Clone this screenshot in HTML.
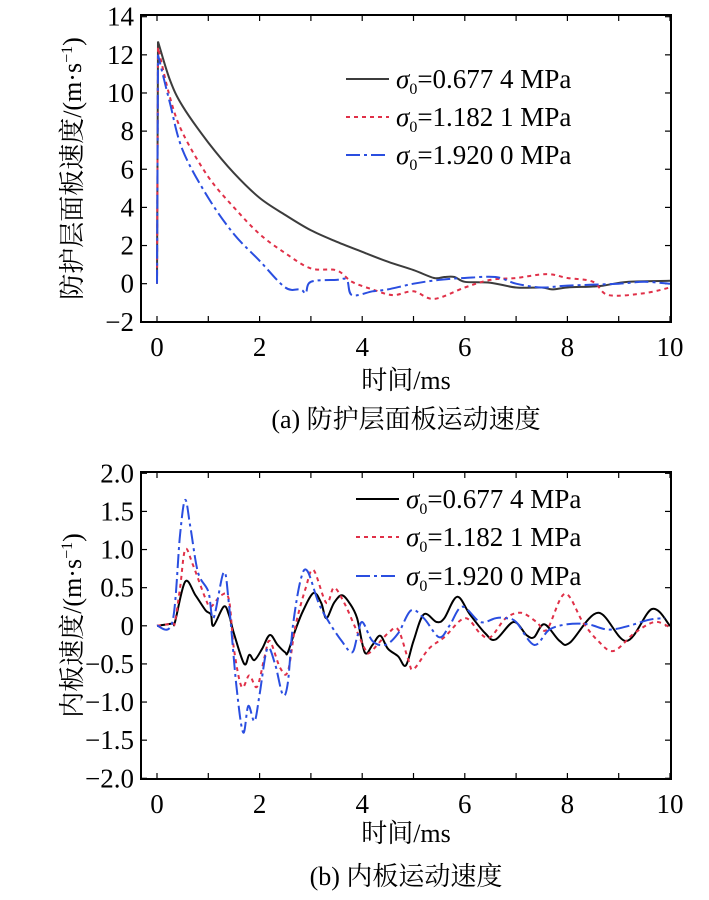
<!DOCTYPE html>
<html><head><meta charset="utf-8">
<style>
body{margin:0;background:#fff;}
svg text{font-family:"Liberation Serif","Noto Serif CJK SC","Noto Sans CJK SC",serif;fill:#000;}
</style></head>
<body>
<svg id="c" width="709" height="895" viewBox="0 0 709 895" xmlns="http://www.w3.org/2000/svg"></svg>
<script>
// ---- data: top chart (protective panel velocity) ----
const topXTicks = [0,2,4,6,8,10];
const topYTicks = [-2,0,2,4,6,8,10,12,14];
const topT1 = [0,0.02,0.25,0.5,1,1.5,2,2.5,3,3.5,4,4.5,5,5.4,5.6,5.8,6,6.5,7,7.5,7.7,8,8.5,8.7,9.2,10];
const topV1 = [0,12.7,10.7,9.3,7.4,5.8,4.5,3.6,2.8,2.2,1.67,1.15,0.71,0.3,0.35,0.35,0.1,0.05,-0.2,-0.2,-0.3,-0.2,-0.15,-0.1,0.1,0.15];
const topT2 = [0,0.02,0.25,0.5,1,1.5,2,2.5,3,3.5,3.8,4.2,4.6,5,5.4,6,6.5,7,7.6,8,8.5,8.8,9.5,10];
const topV2 = [0,12.4,9.8,7.9,5.6,4.0,2.6,1.6,0.8,0.7,0.1,-0.3,-0.6,-0.4,-0.8,-0.2,0.2,0.3,0.5,0.3,0.1,-0.6,-0.5,-0.2];
const topT3 = [0,0.02,0.25,0.5,1,1.5,2,2.5,2.8,2.9,3,3.5,3.7,3.8,4.2,4.5,5,5.5,6,6.6,7,7.5,8,9,9.5,10];
const topV3 = [0,12.0,9.5,7.0,4.5,2.6,1.2,-0.2,-0.3,-0.5,0.1,0.2,0.2,-0.6,-0.4,-0.3,0,0.2,0.3,0.35,0,-0.2,-0.1,0,0.1,0];
// ---- data: bottom chart (inner panel velocity) ----
const botXTicks = [0,2,4,6,8,10];
const botYTicks = [-2,-1.5,-1,-0.5,0,0.5,1,1.5,2];
const botYLabels = ["\u22122.0","\u22121.5","\u22121.0","\u22120.5","0","0.5","1.0","1.5","2.0"];
const botT1 = [0,0.3,0.35,0.55,0.75,0.95,1.05,1.1,1.3,1.4,1.5,1.7,1.8,1.9,2.05,2.2,2.35,2.5,2.55,2.7,2.85,3.05,3.2,3.3,3.45,3.6,3.75,3.9,4.05,4.2,4.35,4.5,4.7,4.85,5.0,5.2,5.45,5.6,5.85,6.1,6.4,6.6,6.95,7.2,7.35,7.55,7.85,8.05,8.6,9.15,9.65,10];
const botV1 = [0,0.03,0.05,0.58,0.4,0.2,0.15,0,0.25,0.15,-0.1,-0.5,-0.38,-0.45,-0.3,-0.12,-0.25,-0.35,-0.35,-0.05,0.2,0.43,0.3,0.1,0.3,0.4,0.3,0.1,-0.35,-0.25,-0.13,-0.3,-0.4,-0.52,-0.2,0.15,0.05,0.1,0.38,0.15,-0.1,-0.18,0.05,-0.12,-0.15,0.02,-0.2,-0.22,0.17,-0.2,0.22,0];
const botT2 = [0,0.3,0.35,0.45,0.55,0.7,0.95,1.05,1.25,1.4,1.5,1.65,1.8,1.95,2.1,2.2,2.4,2.55,2.7,2.9,3.05,3.3,3.45,3.65,3.85,4.05,4.15,4.5,4.7,4.9,5.0,5.3,5.6,6.0,6.3,6.5,6.8,7.1,7.4,7.6,7.95,8.3,8.6,8.9,9.3,9.7,10];
const botV2 = [0,0.03,0.05,0.5,1.0,0.8,0.35,0.25,0.4,0.35,-0.3,-0.8,-0.65,-0.8,-0.4,-0.2,-0.55,-0.6,0,0.5,0.73,0.3,0.5,0.3,0,-0.3,-0.35,-0.1,-0.05,-0.45,-0.57,-0.3,-0.15,0.1,-0.1,-0.15,0.1,0.17,0.05,-0.05,0.42,0.05,-0.2,-0.33,-0.1,0.05,-0.02];
const botT3 = [0,0.3,0.45,0.55,0.65,0.8,1.0,1.1,1.3,1.4,1.55,1.68,1.78,1.9,2.0,2.15,2.3,2.45,2.55,2.65,2.8,2.93,3.15,3.35,3.6,3.8,3.9,4.0,4.2,4.45,4.7,4.95,5.2,5.5,5.7,5.95,6.3,6.6,6.8,7.0,7.35,7.65,8.0,8.4,8.8,9.2,9.6,9.9];
const botV3 = [0,0.05,1.2,1.65,1.3,0.7,0.45,0.1,0.7,0.3,-0.8,-1.4,-1.05,-1.25,-0.9,-0.3,-0.5,-0.9,-0.75,0,0.6,0.72,0.3,0.05,-0.2,-0.35,-0.15,0.05,-0.2,-0.25,-0.1,0.2,0.1,-0.15,0,0.25,0.05,0.1,0.1,0.05,-0.25,-0.05,0.02,0.02,-0.05,0,0.08,0.1];

const NS="http://www.w3.org/2000/svg";
const svg=document.getElementById('c');
function mk(tag,attrs,parent){const e=document.createElementNS(NS,tag);for(const k in attrs)e.setAttribute(k,attrs[k]);(parent||svg).appendChild(e);return e;}

const L=141,R=671;
const xS=t=>157+t*51.3;
const yTop=v=>16.7+(14-v)*19.07;
const yBot=v=>473.3+(2-v)*76.25;

// smooth (Catmull-Rom) from index s0 onward; straight before
function pathStr(T,V,ys,s0){
  const P=T.map((t,i)=>[xS(t),ys(V[i])]);
  let d='M'+P[0][0].toFixed(1)+','+P[0][1].toFixed(1);
  for(let i=0;i<P.length-1;i++){
    const p1=P[i],p2=P[i+1];
    if(i<s0){d+='L'+p2[0].toFixed(1)+','+p2[1].toFixed(1);continue;}
    const p0=P[Math.max(s0,i-1)],p3=P[Math.min(P.length-1,i+2)];
    const c1=[p1[0]+(p2[0]-p0[0])/6,p1[1]+(p2[1]-p0[1])/6];
    const c2=[p2[0]-(p3[0]-p1[0])/6,p2[1]-(p3[1]-p1[1])/6];
    d+='C'+c1[0].toFixed(1)+','+c1[1].toFixed(1)+' '+c2[0].toFixed(1)+','+c2[1].toFixed(1)+' '+p2[0].toFixed(1)+','+p2[1].toFixed(1);
  }
  return d;
}

function panel(name,top,bot,ys,yTicks,yLabels,xTicks,series,legY,legX,yTitle,caption,capY,xTitleY,s0){
  const g=mk('g',{});
  
  
  for(let t=0;t<=10;t++){
    const x=xS(t);
    const tk=mk('line',{x1:x,x2:x,y1:bot,y2:bot-6,stroke:'#000','stroke-width':1.2},g);
    
    
    const tk2=mk('line',{x1:x,x2:x,y1:top,y2:top+6,stroke:'#000','stroke-width':1.2},g);
    
    
  }
  xTicks.forEach(t=>{
    const tx=mk('text',{x:xS(t),y:bot+34,'text-anchor':'middle','font-size':27},g);
    tx.textContent=String(t);
    
    
  });
  yTicks.forEach((v,i)=>{
    const y=ys(v);
    mk('line',{x1:L,x2:L+6,y1:y,y2:y,stroke:'#000','stroke-width':1.2},g);
    mk('line',{x1:R,x2:R-6,y1:y,y2:y,stroke:'#000','stroke-width':1.2},g);
    const tx=mk('text',{x:L-7,y:y+9,'text-anchor':'end','font-size':27},g);
    tx.textContent=yLabels?yLabels[i]:(v<0?'\u2212'+(-v):String(v));
    
    
  });
  const clip='clip-'+name;
  const cp=mk('clipPath',{id:clip},g);mk('rect',{x:L,y:top,width:R-L,height:bot-top},cp);
  series.forEach(s=>{
    const p=mk('path',{d:pathStr(s.T,s.V,ys,s0),fill:'none',stroke:s.c,'stroke-width':2,'stroke-dasharray':s.dash,'clip-path':'url(#'+clip+')'},g);
    
    
  });
  const fr=mk('rect',{x:L,y:top,width:R-L,height:bot-top,fill:'none',stroke:'#000','stroke-width':2},g);
  
  
  const labs=['=0.677 4 MPa','=1.182 1 MPa','=1.920 0 MPa'];
  series.forEach((s,i)=>{
    const y=legY[i];
    const le=mk('g',{},g);
    
    
    mk('line',{x1:legX,x2:legX+43,y1:y,y2:y,stroke:s.c,'stroke-width':2,'stroke-dasharray':s.dash},le);
    const t=mk('text',{x:legX+50,y:y+9,'font-size':27},le);
    t.innerHTML='<tspan font-style="italic">σ</tspan><tspan font-size="16" dy="6">0</tspan><tspan dy="-6">'+labs[i]+'</tspan>';
  });
  const xt=mk('text',{x:406,y:xTitleY,'text-anchor':'middle','font-size':26},g);
  xt.textContent='时间/ms';
  
  
  const cy=(top+bot)/2;
  const yt=mk('text',{x:0,y:0,'text-anchor':'middle','font-size':26,transform:'translate(81,'+cy+') rotate(-90)'},g);
  yt.innerHTML=yTitle;
  
  
  const cap=mk('text',{x:406,y:capY,'text-anchor':'middle','font-size':26},g);
  cap.textContent=caption;
  
  
}

panel('top-chart',15,322,yTop,topYTicks,null,topXTicks,[
  {T:topT1,V:topV1,c:'#3c3c3c',dash:'none',name:'series-0.6774'},
  {T:topT2,V:topV2,c:'#e03048',dash:'4,4',name:'series-1.1821'},
  {T:topT3,V:topV3,c:'#2a4ee0',dash:'14,4,3,4',name:'series-1.9200'}
],[79,117,155],346,'防护层面板速度/(m·s<tspan font-size="16" dy="-9">−1</tspan><tspan dy="9">)</tspan>','(a) 防护层面板运动速度',428,389,1);

panel('bottom-chart',472,779,yBot,botYTicks,botYLabels,botXTicks,[
  {T:botT1,V:botV1,c:'#000',dash:'none',name:'series-0.6774'},
  {T:botT2,V:botV2,c:'#e03048',dash:'4,4',name:'series-1.1821'},
  {T:botT3,V:botV3,c:'#2a4ee0',dash:'14,4,3,4',name:'series-1.9200'}
],[499,537,576],356,'内板速度/(m·s<tspan font-size="16" dy="-9">−1</tspan><tspan dy="9">)</tspan>','(b) 内板运动速度',885,842,0);
</script>
</body></html>
